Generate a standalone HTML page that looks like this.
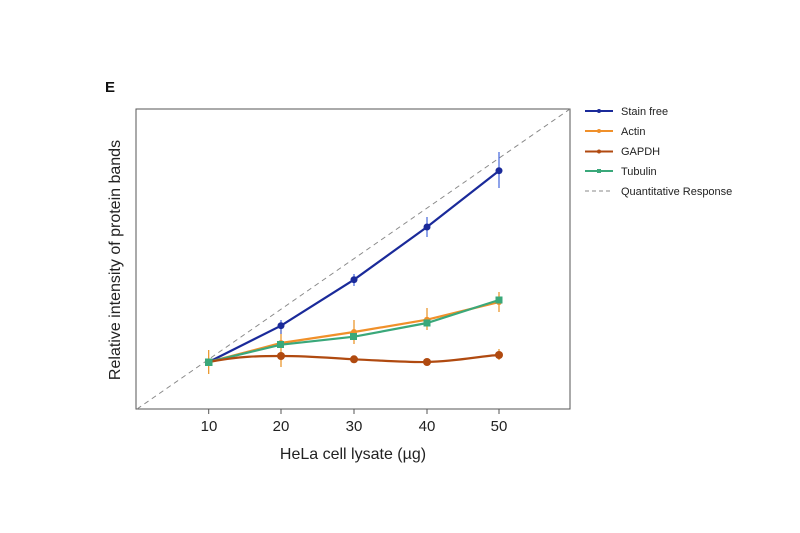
<!DOCTYPE html>
<html><head><style>body{margin:0;background:#fff}svg{display:block;font-family:"Liberation Sans",sans-serif}</style></head><body>
<svg width="800" height="533" viewBox="0 0 800 533">
<text x="105" y="92" font-size="15" font-weight="bold" fill="#111">E</text>
<rect x="136" y="109" width="434" height="300" fill="none" stroke="#555" stroke-width="1"/>
<line x1="137" y1="409" x2="570" y2="109" stroke="#888" stroke-dasharray="5,4" stroke-width="1"/>
<g stroke="#555"><line x1="208.7" y1="409" x2="208.7" y2="414"/><line x1="281" y1="409" x2="281" y2="414"/><line x1="354" y1="409" x2="354" y2="414"/><line x1="427" y1="409" x2="427" y2="414"/><line x1="499" y1="409" x2="499" y2="414"/></g>
<g font-size="15" fill="#222" text-anchor="middle"><text x="209" y="431">10</text><text x="281" y="431">20</text><text x="354" y="431">30</text><text x="427" y="431">40</text><text x="499" y="431">50</text></g>
<text x="353" y="459" font-size="16" fill="#222" text-anchor="middle">HeLa cell lysate (µg)</text>
<text transform="translate(120,260) rotate(-90)" font-size="16" fill="#222" text-anchor="middle">Relative intensity of protein bands</text>
<!-- error bars -->
<g stroke-width="1.2">
<line x1="208.7" y1="350" x2="208.7" y2="374" stroke="#e8901e"/>
<line x1="281" y1="330" x2="281" y2="367" stroke="#e8901e"/>
<line x1="354" y1="320" x2="354" y2="344" stroke="#e8901e"/>
<line x1="427" y1="308" x2="427" y2="330" stroke="#e8901e"/>
<line x1="499" y1="292" x2="499" y2="312" stroke="#e8901e"/>
<line x1="281" y1="320" x2="281" y2="334" stroke="#4466dd"/>
<line x1="354" y1="274" x2="354" y2="286" stroke="#4466dd"/>
<line x1="427" y1="217" x2="427" y2="237" stroke="#4466dd"/>
<line x1="499" y1="152" x2="499" y2="188" stroke="#4466dd"/>
<line x1="499" y1="349" x2="499" y2="360" stroke="#e8901e"/>
</g>
<g fill="none" stroke-width="2.2">
<path d="M208.7,362 L281,325.7 L354,279.7 L427,227 L499,170.7" stroke="#1a2a9a"/>
<path d="M208.7,362 L281,343 L354,332 L427,319.7 L499,302" stroke="#f0902a"/>
<path d="M208.7,362 L281,344.7 L354,336.7 L427,323 L499,300" stroke="#3aa87a"/>
<path d="M208.7,362 C240,356 260,356 281,356 C310,356 330,358 354,359.3 C390,361 410,362.5 427,362 C460,361 480,356 499,355" stroke="#b04a10"/>
</g>
<g fill="#1a2a9a"><circle cx="281" cy="325.7" r="3.5"/><circle cx="354" cy="279.7" r="3.5"/><circle cx="427" cy="227" r="3.5"/><circle cx="499" cy="170.7" r="3.5"/></g>
<g fill="#f0902a"><circle cx="281" cy="343" r="3"/><circle cx="354" cy="332" r="3"/><circle cx="427" cy="319.7" r="3"/><circle cx="499" cy="302" r="3"/></g>
<g fill="#b04a10"><circle cx="281" cy="356" r="4"/><circle cx="354" cy="359.3" r="4"/><circle cx="427" cy="362" r="4"/><circle cx="499" cy="355" r="4"/></g>
<g fill="#3aa87a"><rect x="277" y="341" width="7" height="7"/><rect x="350" y="333" width="7" height="7"/><rect x="423.5" y="319.5" width="7" height="7"/><rect x="495.5" y="296.5" width="7" height="7"/><rect x="205" y="358.5" width="7.5" height="7.5"/></g>
<!-- legend -->
<g stroke-width="2">
<line x1="585" y1="111" x2="613" y2="111" stroke="#1a2a9a"/>
<line x1="585" y1="131" x2="613" y2="131" stroke="#f0902a"/>
<line x1="585" y1="151.5" x2="613" y2="151.5" stroke="#b04a10"/>
<line x1="585" y1="171" x2="613" y2="171" stroke="#3aa87a"/>
<line x1="585" y1="191" x2="613" y2="191" stroke="#888" stroke-width="1" stroke-dasharray="4,3"/>
</g>
<g><circle cx="599" cy="111" r="2" fill="#1a2a9a"/><circle cx="599" cy="131" r="2" fill="#f0902a"/><circle cx="599" cy="151.5" r="2" fill="#b04a10"/><rect x="597" y="169" width="4" height="4" fill="#3aa87a"/></g>
<g font-size="11" fill="#222"><text x="621" y="115">Stain free</text><text x="621" y="135">Actin</text><text x="621" y="155">GAPDH</text><text x="621" y="175">Tubulin</text><text x="621" y="195">Quantitative Response</text></g>
</svg>
</body></html>
